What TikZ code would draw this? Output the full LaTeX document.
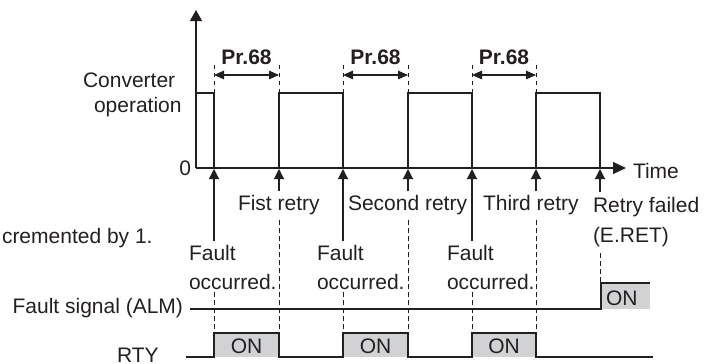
\documentclass[tikz,border=0pt]{standalone}
\usepackage{fontspec}
\setmainfont{Liberation Sans}
\usetikzlibrary{arrows.meta}
\definecolor{ink}{HTML}{231F20}
\definecolor{gfill}{HTML}{D1D2D4}
\begin{document}
\begin{tikzpicture}[x=1pt,y=-1pt,
  every node/.style={inner sep=0pt, outer sep=0pt, text=ink, font=\fontsize{21}{25}\selectfont},
  lbl/.style={anchor=base west},
  sig/.style={draw=ink, line width=1.3pt},
  dsh/.style={draw=ink, line width=0.9pt, dash pattern=on 4.5pt off 3.5pt},
  evarrow/.style={draw=ink, line width=1.1pt, -{Triangle[length=10pt,width=10pt]}},
  dimarrow/.style={draw=ink, line width=1.3pt, {Triangle[length=10pt,width=8.5pt]}-{Triangle[length=10pt,width=8.5pt]}},
  axisline/.style={draw=ink, line width=1.3pt},
  onbox/.style={fill=gfill, draw=none}
]
\useasboundingbox (0,0) rectangle (707,364);
\clip (0,0) rectangle (707,364);

% key points on the time axis
\coordinate (O) at (196,168);
\coordinate (ytop) at (196,10);
\coordinate (xend) at (626,168);
\coordinate (f1) at (214,168);
\coordinate (r1) at (279,168);
\coordinate (f2) at (343,168);
\coordinate (r2) at (408,168);
\coordinate (f3) at (472,168);
\coordinate (r3) at (536,168);
\coordinate (rf) at (600,168);

% converter operation pulses
\draw[sig] (196,93) -| (f1);
\draw[sig] (r1) |- (343,93) -- (f2);
\draw[sig] (r2) |- (472,93) -- (f3);
\draw[sig] (r3) |- (600,93) -- (rf);

% axes
\draw[axisline, -{Triangle[length=11pt,width=12pt]}] (O) -- (ytop);
\draw[axisline, -{Triangle[length=13pt,width=12pt]}] (O) -- (xend);

% dashed extension lines above pulses
\foreach \x in {214,279,343,408,472,536} \draw[dsh] (\x,93) -- (\x,65);

% Pr.68 dimensions
\coordinate (d1a) at (214,75); \coordinate (d1b) at (279,75);
\coordinate (d2a) at (343,75); \coordinate (d2b) at (408,75);
\coordinate (d3a) at (472,75); \coordinate (d3b) at (536,75);
\draw[dimarrow] (d1a) -- (d1b);
\draw[dimarrow] (d2a) -- (d2b);
\draw[dimarrow] (d3a) -- (d3b);
\node[anchor=base, font=\fontsize{21}{25}\selectfont\bfseries] (p1) at (246.5,64) {Pr.68};
\node[anchor=base, font=\fontsize{21}{25}\selectfont\bfseries] (p2) at (375.5,64) {Pr.68};
\node[anchor=base, font=\fontsize{21}{25}\selectfont\bfseries] (p3) at (504,64) {Pr.68};

% axis labels
\node[anchor=base west] (conv) at (83,87) {Converter};
\node[anchor=base west] (oper) at (94,112) {operation};
\node[anchor=base east] (zero) at (191,175) {0};
\node[anchor=base west] (time) at (633,178) {Time};

% event arrows
\coordinate (f1b) at (214,241); \coordinate (f2b) at (343,241); \coordinate (f3b) at (472,241);
\coordinate (r1b) at (279,191); \coordinate (r2b) at (408,191); \coordinate (r3b) at (536,191);
\coordinate (rfb) at (600,192);
\draw[evarrow] (f1b) -- ([yshift=-1pt]f1);
\draw[evarrow] (f2b) -- ([yshift=-1pt]f2);
\draw[evarrow] (f3b) -- ([yshift=-1pt]f3);
\draw[evarrow] (r1b) -- ([yshift=-1pt]r1);
\draw[evarrow] (r2b) -- ([yshift=-1pt]r2);
\draw[evarrow] (r3b) -- ([yshift=-1pt]r3);
\draw[evarrow] (rfb) -- ([yshift=-1pt]rf);

% event labels
\node[lbl] (lr1) at (238,210) {Fist retry};
\node[lbl] (lr2) at (348,210) {Second retry};
\node[lbl] (lr3) at (483,210) {Third retry};
\node[lbl] (lrf) at (593,212) {Retry failed};
\node[lbl] (lret) at (593,242) {(E.RET)};
\node[lbl] (fa1) at (189,260) {Fault};
\node[lbl] (fo1) at (189,289) {occurred.};
\node[lbl] (fa2) at (317,260) {Fault};
\node[lbl] (fo2) at (317,289) {occurred.};
\node[lbl] (fa3) at (447,260) {Fault};
\node[lbl] (fo3) at (447,289) {occurred.};
\node[lbl] (incr) at (2,243) {cremented by 1.};

% dashed guide lines below
\foreach \x in {279,408,536} \draw[dsh] (\x,220) -- (\x,333);
\foreach \x in {214,343,472} \draw[dsh] (\x,292) -- (\x,333);
\draw[dsh] (600,253) -- (600,283);

% ALM signal
\node[anchor=base east] (alm) at (183,313) {Fault signal (ALM)};
\fill[onbox] (601,283) rectangle (650,309);
\draw[sig] (190,309) -- (601,309) -- (601,283) -- (650,283);
\node[lbl] (almon) at (606,305) {ON};

% RTY signal
\fill[onbox] (214,333) rectangle (279,357);
\fill[onbox] (343,333) rectangle (408,357);
\fill[onbox] (472,333) rectangle (536,357);
\draw[sig] (186,357) -- (214,357) -- (214,333) -- (279,333) -- (279,357)
  -- (343,357) -- (343,333) -- (408,333) -- (408,357)
  -- (472,357) -- (472,333) -- (536,333) -- (536,357) -- (653,357);
\node[anchor=base] (on1) at (246.5,353) {ON};
\node[anchor=base] (on2) at (375.5,353) {ON};
\node[anchor=base] (on3) at (504,353) {ON};
\node[lbl] (rty) at (117,362) {RTY};
\end{tikzpicture}
\end{document}
